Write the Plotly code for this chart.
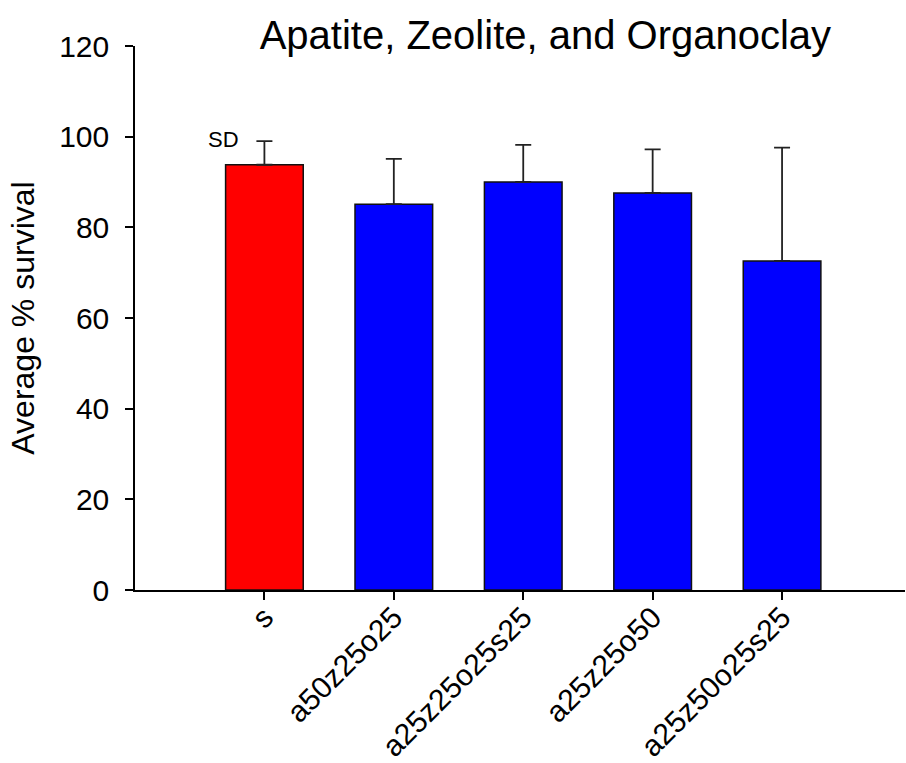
import plotly.graph_objects as go

categories = ["s", "a50z25o25", "a25z25o25s25", "a25z25o50", "a25z50o25s25"]
means = [93.8, 85.1, 90.0, 87.6, 72.6]
sd_plus = [5.2, 10.0, 8.2, 9.6, 25.0]
bar_colors = ["#ff0000", "#0000ff", "#0000ff", "#0000ff", "#0000ff"]
y_ticks = [0, 20, 40, 60, 80, 100, 120]

FONT = "Liberation Sans, Arial, sans-serif"

fig = go.Figure()
fig.add_trace(go.Bar(
    x=list(range(len(categories))),
    y=means,
    width=0.6,
    marker=dict(color=bar_colors, line=dict(color="#111111", width=1.5)),
    error_y=dict(type="data", symmetric=False, array=sd_plus,
                 arrayminus=[0] * len(means),
                 color="#222222", thickness=1.8, width=8),
    showlegend=False,
))

fig.add_annotation(x=-0.32, y=99.3, xref="x", yref="y", text="SD",
                   showarrow=False, font=dict(family=FONT, size=22, color="black"))

fig.update_layout(
    width=906, height=763,
    margin=dict(l=135, r=1, t=46, b=173),
    paper_bgcolor="white", plot_bgcolor="white",
    font=dict(family=FONT, color="black"),
    title=dict(text="Apatite, Zeolite, and Organoclay",
               font=dict(family=FONT, size=40, color="black"),
               x=0.602, xref="container", xanchor="center",
               y=0.954, yref="container", yanchor="middle"),
    bargap=0.4,
)
fig.update_xaxes(
    range=[-1, 4.95], automargin=False,
    tickmode="array", tickvals=list(range(len(categories))), ticktext=categories,
    tickangle=-45, tickfont=dict(family=FONT, size=30, color="black"),
    showline=True, linecolor="black", linewidth=1.5,
    ticks="outside", ticklen=8, tickwidth=1.5, tickcolor="black",
    ticklabelstandoff=-12,
    showgrid=False, zeroline=False,
)
fig.update_yaxes(
    range=[0, 120], automargin=False,
    tickmode="array", tickvals=y_ticks,
    tickfont=dict(family=FONT, size=30, color="black"),
    title=dict(text="Average % survival", font=dict(family=FONT, size=32, color="black"),
               standoff=15),
    showline=True, linecolor="black", linewidth=1.5,
    ticks="outside", ticklen=8, tickwidth=1.5, tickcolor="black",
    ticklabelstandoff=10,
    showgrid=False, zeroline=False,
)

fig.write_html(
    "out.html",
    config={"displayModeBar": False},
    post_script="document.body.style.margin='0';document.body.style.overflow='hidden';",
)
